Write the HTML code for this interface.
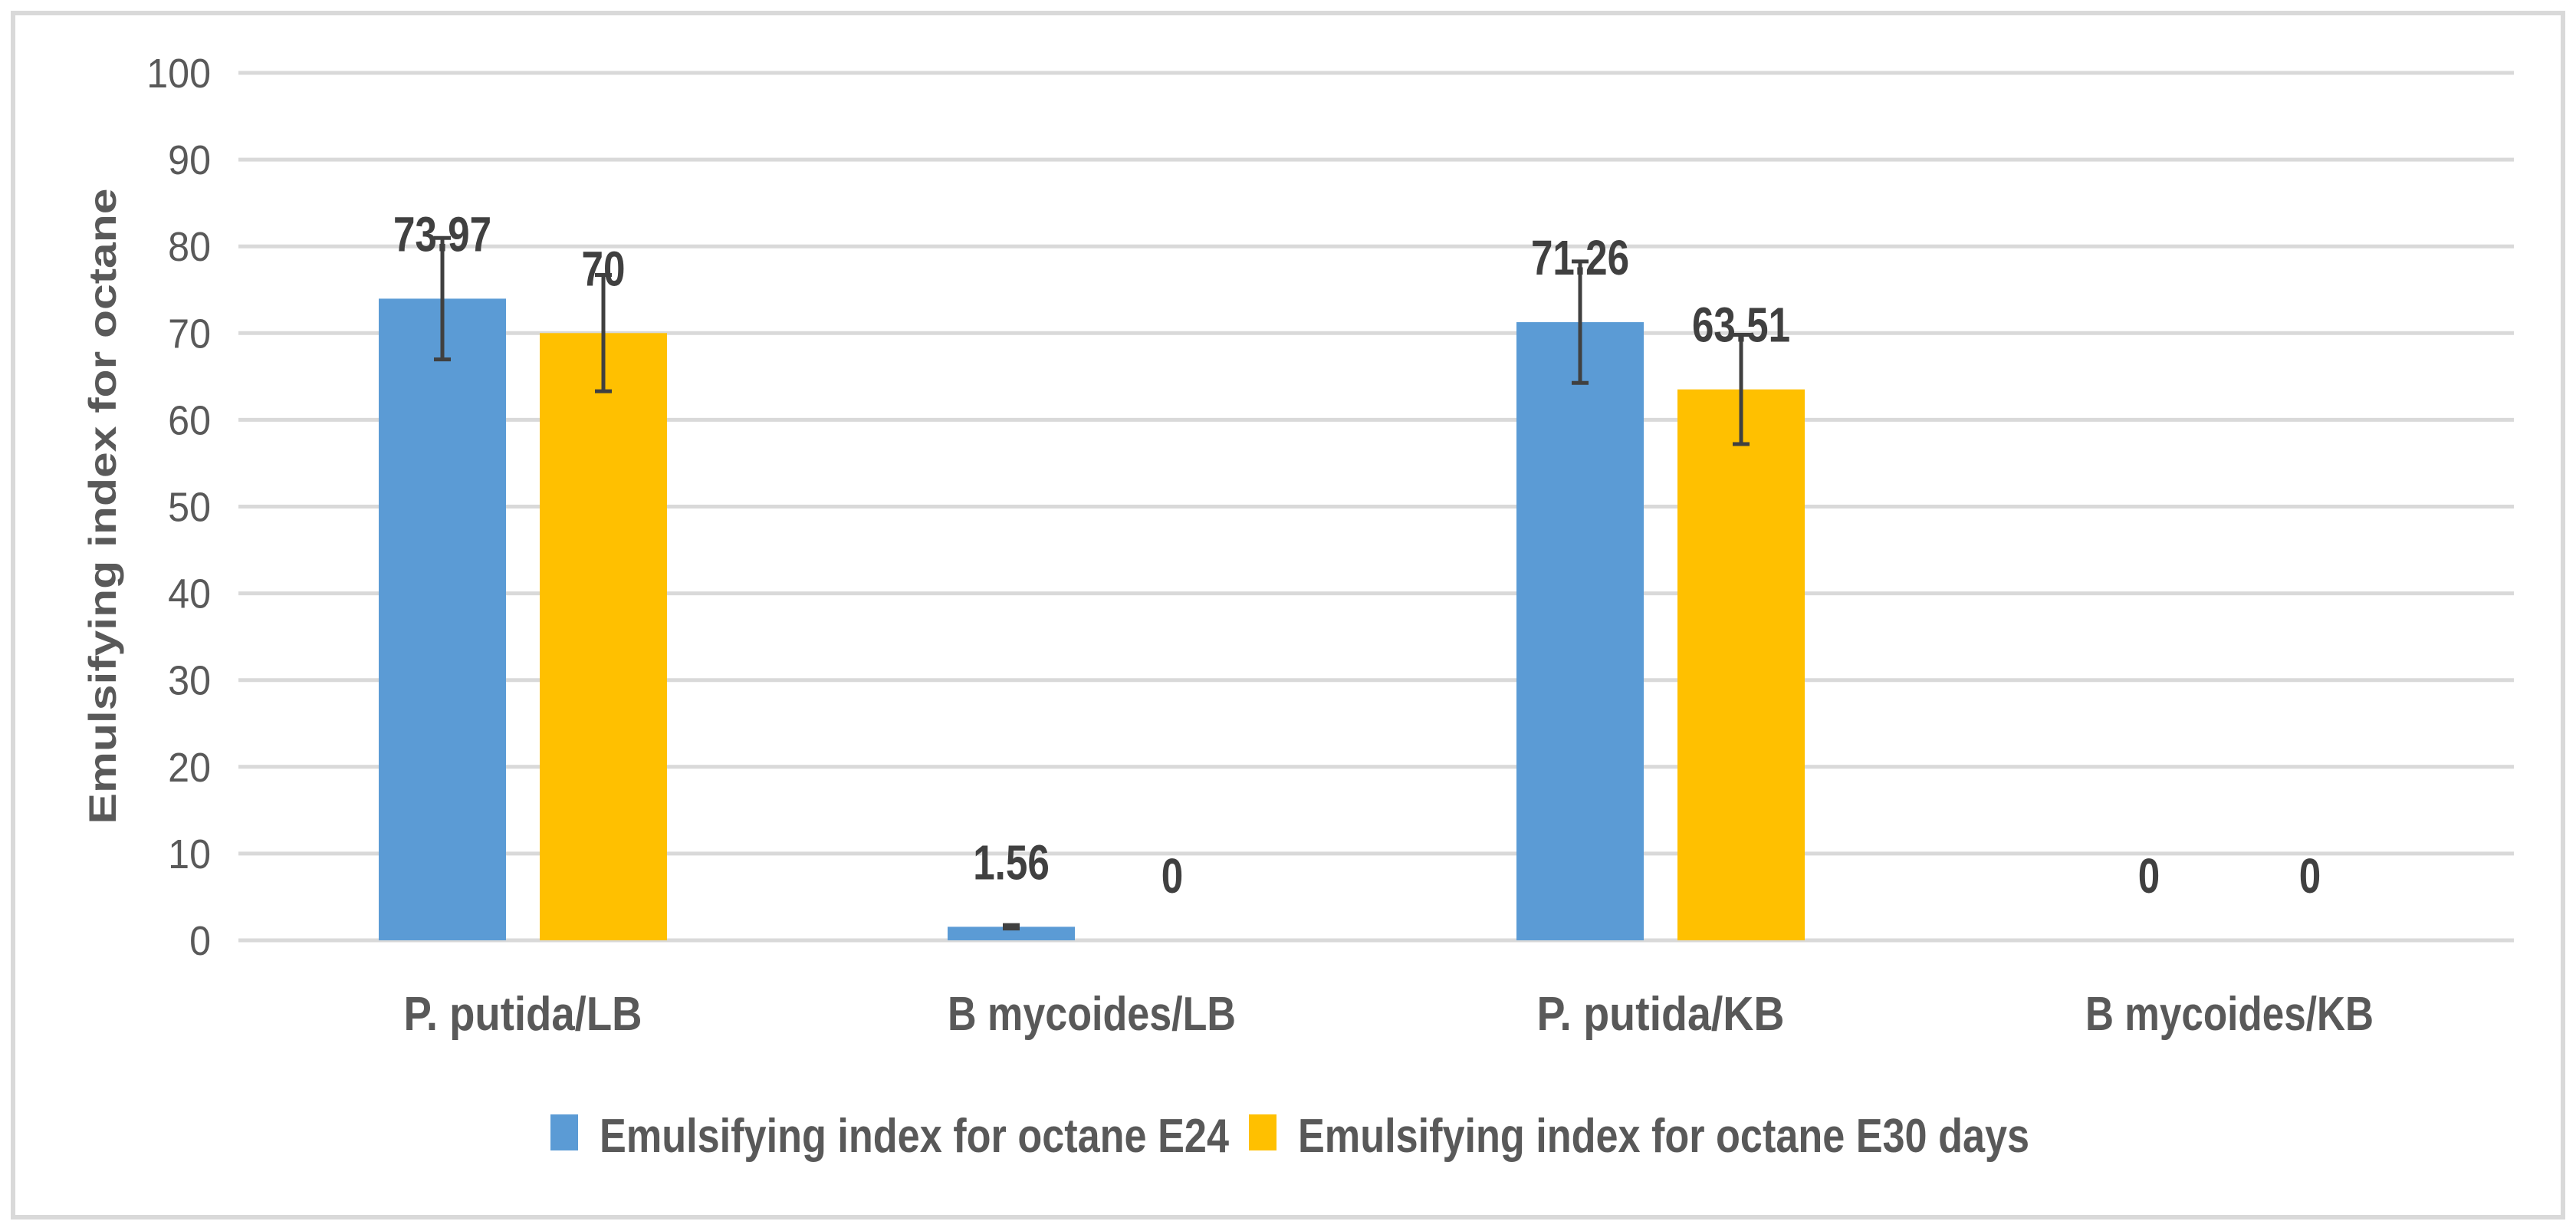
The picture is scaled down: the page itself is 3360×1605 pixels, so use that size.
<!DOCTYPE html>
<html>
<head>
<meta charset="utf-8">
<style>
html,body{margin:0;padding:0;background:#fff;}
svg{display:block;}
text{font-family:"Liberation Sans",sans-serif;}
</style>
</head>
<body>
<svg id="chart" width="3360" height="1605" viewBox="0 0 3360 1605" xmlns="http://www.w3.org/2000/svg">
  <rect x="17" y="17" width="3326" height="1570" fill="#fff" stroke="#d9d9d9" stroke-width="6"/>
  <g id="grid"></g>
  <g id="yticks"></g>
  <text transform="translate(151,660) rotate(-90)" text-anchor="middle" font-size="50" font-weight="bold" fill="#595959" textLength="829" lengthAdjust="spacingAndGlyphs">Emulsifying index for octane</text>
  <g id="bars"></g>
  <g id="errs"></g>
  <g id="vals"></g>
  <g id="cats"></g>
  <g>
    <rect x="718" y="1453" width="36" height="47" fill="#5b9bd5"/>
    <text x="782" y="1502" font-size="62" font-weight="bold" fill="#595959" textLength="821" lengthAdjust="spacingAndGlyphs">Emulsifying index for octane E24</text>
    <rect x="1629" y="1453" width="36" height="47" fill="#ffc000"/>
    <text x="1693" y="1502" font-size="62" font-weight="bold" fill="#595959" textLength="954" lengthAdjust="spacingAndGlyphs">Emulsifying index for octane E30 days</text>
  </g>
</svg>
<script>
const categories = ["P. putida/LB", "B mycoides/LB", "P. putida/KB", "B mycoides/KB"];
const catLabelWidths = [311, 376, 323, 376];
const seriesE24 = [73.97, 1.56, 71.26, 0];
const seriesE30 = [70, 0, 63.51, 0];
const errE24 = [7.0, 0.2, 7.0, 0];
const errE30 = [6.7, 0, 6.3, 0];
const labelsE24 = ["73.97", "1.56", "71.26", "0"];
const labelsE30 = ["70", "0", "63.51", "0"];
const yTicks = [0, 10, 20, 30, 40, 50, 60, 70, 80, 90, 100];

const NS = "http://www.w3.org/2000/svg";
const plotL = 311, plotR = 3279, y0 = 1226, y100 = 95;
function yScale(v){ return y0 - (v/100)*(y0 - y100); }
function xCat(i){ return plotL + (plotR-plotL)/categories.length*(i+0.5); }
const barW = 166, offs = [-105, 105];
function mk(tag, attrs, parent){ const e=document.createElementNS(NS,tag); for(const k in attrs) e.setAttribute(k, attrs[k]); parent.appendChild(e); return e; }

const grid=document.getElementById('grid'), yt=document.getElementById('yticks');
yTicks.forEach(t=>{
  const l=mk('line',{x1:plotL,x2:plotR,y1:yScale(t),y2:yScale(t),stroke:'#d9d9d9','stroke-width':5},grid);
  
  
  const tx=mk('text',{x:0,y:0,'text-anchor':'end','font-size':54,fill:'#595959',transform:`translate(275,${yScale(t)+19}) scale(0.93,1)`},yt);
  tx.textContent=String(t);
  
  
});

const bars=document.getElementById('bars'), errs=document.getElementById('errs'), vals=document.getElementById('vals'), cats=document.getElementById('cats');
const series=[{v:seriesE24,e:errE24,lab:labelsE24,c:'#5b9bd5',n:'e24'},{v:seriesE30,e:errE30,lab:labelsE30,c:'#ffc000',n:'e30'}];
categories.forEach((c,i)=>{
  series.forEach((s,j)=>{
    const cx=xCat(i)+offs[j], top=yScale(s.v[i]);
    if(s.v[i]>0){
      const r=mk('rect',{x:cx-barW/2,y:top,width:barW,height:y0-top,fill:s.c},bars);
      
      
    }
    if(s.e[i]>0){
      const g=mk('g',{stroke:'#404040','stroke-width':5},errs);
      
      
      const a=yScale(s.v[i]+s.e[i]), b=yScale(s.v[i]-s.e[i]);
      mk('line',{x1:cx,x2:cx,y1:a,y2:b},g);
      mk('line',{x1:cx-11,x2:cx+11,y1:a,y2:a},g);
      mk('line',{x1:cx-11,x2:cx+11,y1:b,y2:b},g);
    }
    const t=mk('text',{x:0,y:0,'text-anchor':'middle','font-size':64,'font-weight':'bold',fill:'#404040',transform:`translate(${cx},${top-62}) scale(0.8,1)`},vals);
    t.textContent=s.lab[i];
    
    
  });
  const ct=mk('text',{x:xCat(i),y:1343,'text-anchor':'middle','font-size':62,'font-weight':'bold',fill:'#595959',textLength:catLabelWidths[i],lengthAdjust:'spacingAndGlyphs'},cats);
  ct.textContent=c;
  
  
});
</script>
</body>
</html>
